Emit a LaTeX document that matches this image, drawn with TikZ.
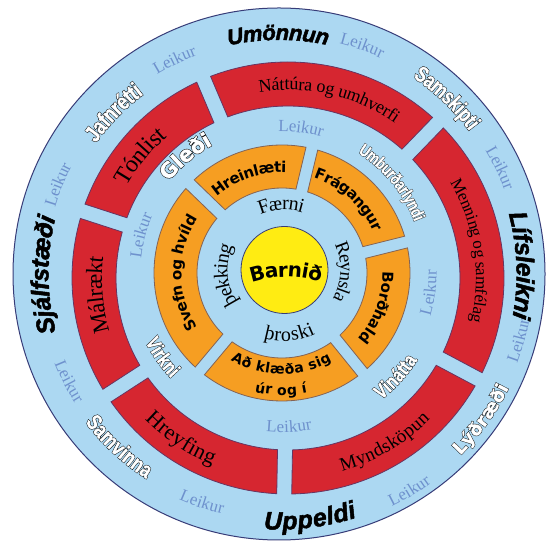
\documentclass[tikz,border=0pt]{standalone}
\usepackage{fontspec}
\setmainfont{Liberation Serif}
\newfontfamily\serifF{Liberation Serif}
\newfontfamily\wideF{DejaVu Sans Bold}[FakeBold=1]
\newfontfamily\wideBG{DejaVu Sans Bold}[FakeBold=6]
\newfontfamily\narrowF{Liberation Sans Bold}[FakeStretch=0.78,FakeBold=1.2]
\newfontfamily\narrowBG{Liberation Sans Bold}[FakeStretch=0.78,FakeBold=5.5]
\newfontfamily\orangeF{DejaVu Sans Bold}
\newfontfamily\heavyF{Liberation Sans Bold Italic}[FakeBold=2]
\usetikzlibrary{decorations.text,calc}

\definecolor{skyring}{RGB}{172,216,242}
\definecolor{ringred}{RGB}{214,38,48}
\definecolor{ringorange}{RGB}{246,158,34}
\definecolor{coreyellow}{RGB}{255,236,18}
\definecolor{edgeblue}{RGB}{55,60,120}
\definecolor{leikblue}{RGB}{110,145,205}

\newcommand{\fs}[1]{\fontsize{#1}{#1}\selectfont}

% curved text: center, radius, mid angle, dir (1 cw, -1 ccw), raise, formatted text
\newcommand{\arctxt}[6]{%
  \path[shift={(#1)}, decorate, decoration={text along path, text align=center, raise=#5pt, text={#6}}]
    ({#3+(#4)*70}:#2) arc[start angle={#3+(#4)*70}, end angle={#3-(#4)*70}, radius=#2];}
% outlined curved text
\newcommand{\oltxt}[8]{%
  \arctxt{#1}{#2}{#3}{#4}{#5}{|#6|#8}\arctxt{#1}{#2}{#3}{#4}{#5}{|#7|#8}}
\newcommand{\leik}[4]{\arctxt{#1}{#2}{#3}{#4}{-4.5}{|\color{leikblue}\serifF\fs{17}|Leikur}}
% annular segment: center, rin, rout, a1, a2, half gap, style
\newcommand{\annseg}[7]{%
  \path[shift={(#1)}, #7] ({#4+asin(#6/#3)}:#3) arc[start angle={#4+asin(#6/#3)}, end angle={#5-asin(#6/#3)}, radius=#3]
    -- ({#5-asin(#6/#2)}:#2) arc[start angle={#5-asin(#6/#2)}, end angle={#4+asin(#6/#2)}, radius=#2] -- cycle;}

\tikzset{
  redseg/.style={fill=ringred, draw=edgeblue!70!ringred, line width=0.8pt},
  orseg/.style={fill=ringorange, draw=edgeblue!60!ringorange, line width=0.8pt},
}

\begin{document}
\begin{tikzpicture}[x=1pt,y=1pt]
\useasboundingbox (0,0) rectangle (547,548);
\fill[white] (0,0) rectangle (547,548);
\coordinate (O1) at (279,274);
\coordinate (O2) at (288,270);
\coordinate (O3) at (282,275);
\coordinate (O4) at (284.5,278);
\coordinate (B0) at (286,163);

\node[circle, fill=skyring, draw=edgeblue, line width=1pt, minimum size=532pt, inner sep=0pt] (disk) at (O1) {};

% red ring
\annseg{O2}{172}{216}{46}{113}{7.5}{redseg}
\annseg{O2}{172}{216}{-28}{46}{7.5}{redseg}
\annseg{O2}{172}{216}{-91}{-28}{7.5}{redseg}
\annseg{O2}{172}{216}{-147}{-91}{7.5}{redseg}
\annseg{O2}{172}{216}{162}{213}{7.5}{redseg}
\annseg{O2}{172}{216}{113}{162}{7.5}{redseg}

% orange ring
\annseg{O3}{85}{128}{76.5}{136}{6}{orseg}
\annseg{O3}{85}{128}{14}{76.5}{6}{orseg}
\annseg{O3}{85}{128}{-51}{14}{6}{orseg}
\annseg{O3}{85}{128}{-130}{-51}{6}{orseg}
\annseg{O3}{85}{128}{136}{230}{6}{orseg}

\node[circle, fill=coreyellow, draw=edgeblue, line width=0.8pt, minimum size=87pt, inner sep=0pt] (core) at (O4) {};

% red ring texts
\arctxt{O2}{194}{77}{1}{-6}{|\serifF\fs{18}|Náttúra og umhverfi}
\arctxt{O2}{194}{8.5}{1}{-6}{|\serifF\fs{17}|Menning og samfélag}
\arctxt{O2}{194}{-59.6}{-1}{-6.5}{|\serifF\fs{19}|Myndsköpun}
\arctxt{O2}{194}{-123.7}{-1}{-7.5}{|\serifF\fs{22}|Hreyfing}
\arctxt{O2}{194}{185}{1}{-8}{|\serifF\fs{23}|Málrækt}
\arctxt{O2}{194}{140.5}{1}{-8.5}{|\serifF\fs{24}|Tónlist}

% orange ring texts
\arctxt{O3}{106}{109}{1}{-5.5}{|\orangeF\fs{15}|Hreinlæti}
\arctxt{O3}{106}{47.7}{1}{-5.5}{|\orangeF\fs{15}|Frágangur}
\arctxt{O3}{106}{-20}{1}{-5.5}{|\orangeF\fs{15}|Borðhald}
\arctxt{O3}{96}{-90.5}{-1}{-5}{|\orangeF\fs{14}|Að klæða sig}
\arctxt{O3}{117}{-90.5}{-1}{-5}{|\orangeF\fs{14}|úr og í}
\arctxt{O3}{106}{180}{1}{-5.5}{|\orangeF\fs{15}|Svefn og hvíld}

% inner ring texts
\arctxt{O4}{66}{93}{1}{-6}{|\serifF\fs{20}|Færni}
\arctxt{O4}{62}{-2}{1}{-6}{|\serifF\fs{19}|Reynsla}
\arctxt{O4}{66}{-85.7}{-1}{-5}{|\serifF\fs{20}|þroski}
\arctxt{O4}{63}{185}{1}{-6}{|\serifF\fs{20}|þekking}

% centre
\arctxt{B0}{115}{90}{1}{-7}{|\orangeF\fs{20}|Barnið}

% Leikur
\leik{O3}{146}{82.5}{1}
\leik{O3}{146}{165}{1}
\leik{O3}{150}{-7.6}{-1}
\leik{O3}{155}{-87.4}{-1}
\leik{O1}{243}{70}{1}
\leik{O1}{245}{25.6}{1}
\leik{O1}{250}{-15.5}{-1}
\leik{O1}{254}{-59}{-1}
\leik{O1}{242}{-108.6}{-1}
\leik{O1}{237}{-152.9}{-1}
\leik{O1}{238}{158}{1}
\leik{O1}{238}{116}{1}

% outlined words, middle ring
\oltxt{O3}{153}{129.7}{1}{-7.5}{\color{black}\wideBG\fs{21}}{\color{white}\wideF\fs{21}}{Gleði}
\oltxt{O3}{148}{39.4}{1}{-6}{\color{black}\narrowBG\fs{17}}{\color{white}\narrowF\fs{17}}{Umburðarlyndi}
\oltxt{O3}{154}{-42.4}{-1}{-7}{\color{black}\narrowBG\fs{20}}{\color{white}\narrowF\fs{20}}{Vinátta}
\oltxt{O3}{146}{-144.9}{-1}{-7}{\color{black}\narrowBG\fs{20}}{\color{white}\narrowF\fs{20}}{Virkni}

% outlined words, outer ring
\oltxt{O1}{246}{46.3}{1}{-8}{\color{black}\narrowBG\fs{22}}{\color{white}\narrowF\fs{22}}{Samskipti}
\oltxt{O1}{250}{-35.7}{-1}{-6.5}{\color{black}\wideBG\fs{18}}{\color{white}\wideF\fs{18}}{Lýðræði}
\oltxt{O1}{236}{-132.8}{-1}{-8}{\color{black}\narrowBG\fs{22}}{\color{white}\narrowF\fs{22}}{Samvinna}
\oltxt{O1}{233}{135.7}{1}{-8}{\color{black}\narrowBG\fs{23}}{\color{white}\narrowF\fs{23}}{Jafnrétti}

% heavy words, outer ring
\arctxt{O1}{242}{90.2}{1}{-8}{|\heavyF\fs{22}|Umönnun}
\arctxt{O1}{246}{2}{1}{-8.5}{|\heavyF\fs{25}|Lífsleikni}
\arctxt{O1}{247}{-82.8}{-1}{-8.5}{|\heavyF\fs{25}|Uppeldi}
\arctxt{O1}{239}{180.2}{1}{-8.5}{|\heavyF\fs{25}|Sjálfstæði}
\end{tikzpicture}
\end{document}
